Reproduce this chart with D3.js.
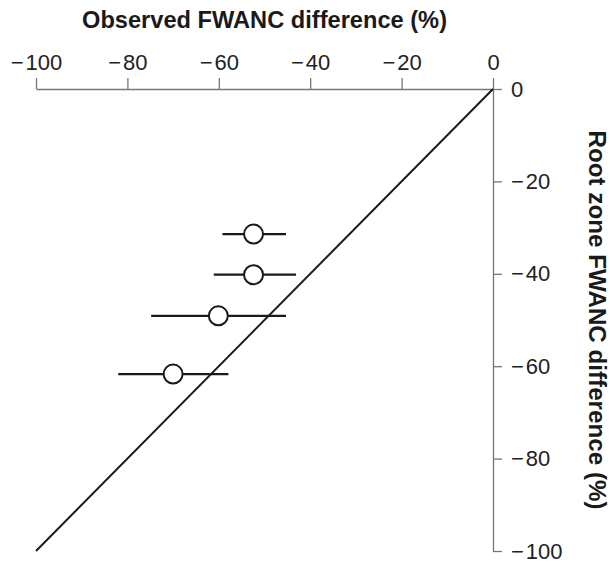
<!DOCTYPE html>
<html>
<head>
<meta charset="utf-8">
<script src="https://cdn.jsdelivr.net/npm/d3@7"></script>
<style>
  body { margin: 0; background: #fff; }
  svg { display: block; }
  .tick text { font-family: "Liberation Sans", Arial, sans-serif; font-size: 22px; fill: #222; }
  .axis path, .axis line { stroke: #777; stroke-width: 1.3; }
  .title { font-family: "Liberation Sans", Arial, sans-serif; font-weight: bold; font-size: 24px; fill: #1a1a1a; }
</style>
</head>
<body>
<div id="chart"></div>
<script>
// values
var observed = [-52.4, -52.4, -60.1, -70.0];
var observedLow = [-59.2, -61.1, -74.8, -82.0];
var observedHigh = [-45.3, -43.1, -45.3, -57.9];
var rootZone = [-31.4, -40.2, -49.1, -61.7];
var xTicks = [-100, -80, -60, -40, -20, 0];
var yTicks = [0, -20, -40, -60, -80, -100];
var oneToOne = [[0, 0], [-100, -100]];

var W = 610, H = 564;

var svg = d3.select("#chart").append("svg")
    .attr("width", W)
    .attr("height", H);

var x = d3.scaleLinear()
    .domain([-100, 0])
    .range([36, 493]);

var y = d3.scaleLinear()
    .domain([0, -100])
    .range([89, 551]);

// minus sign followed by a hair space, like the original labels
var fmt = function(d) { return d < 0 ? "\u2212\u200A" + Math.abs(d) : d; };

// top axis
var xAxis = d3.axisTop(x)
    .tickValues(xTicks)
    .tickSize(11)
    .tickPadding(8)
    .tickSizeOuter(0)
    .tickFormat(fmt);

svg.append("g")
    .attr("class", "axis")
    .attr("transform", "translate(0," + y(0) + ")")
    .call(xAxis);

// right axis
var yAxis = d3.axisRight(y)
    .tickValues(yTicks)
    .tickSize(9)
    .tickPadding(9)
    .tickSizeOuter(0)
    .tickFormat(fmt);

svg.append("g")
    .attr("class", "axis")
    .attr("transform", "translate(" + x(0) + ",0)")
    .call(yAxis);

// 1:1 line
svg.append("line")
    .attr("x1", x(oneToOne[0][0]))
    .attr("y1", y(oneToOne[0][1]))
    .attr("x2", x(oneToOne[1][0]))
    .attr("y2", y(oneToOne[1][1]))
    .attr("stroke", "#1a1a1a")
    .attr("stroke-width", 2);

var pts = observed.map(function(d, i) {
    return { x: d, lo: observedLow[i], hi: observedHigh[i], y: rootZone[i] };
});

// error bars
svg.selectAll(".err")
    .data(pts)
    .enter().append("line")
    .attr("class", "err")
    .attr("x1", function(d) { return x(d.lo); })
    .attr("x2", function(d) { return x(d.hi); })
    .attr("y1", function(d) { return y(d.y); })
    .attr("y2", function(d) { return y(d.y); })
    .attr("stroke", "#1a1a1a")
    .attr("stroke-width", 2.2);

// points
svg.selectAll(".pt")
    .data(pts)
    .enter().append("circle")
    .attr("class", "pt")
    .attr("cx", function(d) { return x(d.x); })
    .attr("cy", function(d) { return y(d.y); })
    .attr("r", 9.5)
    .attr("fill", "#fff")
    .attr("stroke", "#1a1a1a")
    .attr("stroke-width", 2);

// titles
svg.append("text")
    .attr("class", "title")
    .attr("x", (x(-100) + x(0)) / 2)
    .attr("y", 28)
    .attr("text-anchor", "middle")
    .attr("textLength", 365)
    .attr("lengthAdjust", "spacingAndGlyphs")
    .text("Observed FWANC difference (%)");

svg.append("text")
    .attr("class", "title")
    .attr("transform", "translate(589," + (y(0) + y(-100)) / 2 + ") rotate(90)")
    .attr("text-anchor", "middle")
    .attr("textLength", 379)
    .attr("lengthAdjust", "spacingAndGlyphs")
    .text("Root zone FWANC difference (%)");
</script>
</body>
</html>
